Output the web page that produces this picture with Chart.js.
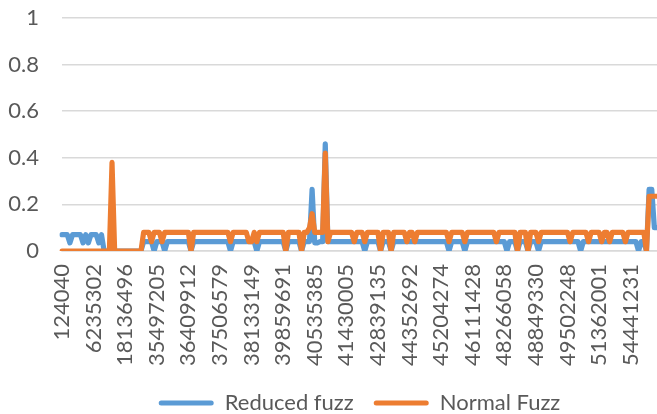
<!DOCTYPE html>
<html>
<head>
<meta charset="utf-8">
<script src="https://cdn.jsdelivr.net/npm/chart.js@4.4.1/dist/chart.umd.min.js"></script>
<style>
html,body{margin:0;padding:0;background:#fff;}
#wrap{width:657px;height:414px;position:relative;}
</style>
</head>
<body>
<div id="wrap"><canvas id="c"></canvas></div>
<script>
// Tick labels shown on the category axis (every 12th category)
const tickLabels = ['124040','6235302','18136496','35497205','36409912','37506579','38133149','39859691','40535385','41430005','42839135','44352692','45204274','46111428','48266058','48849330','49502248','51362001','54441231'];
const labelStep = 12;

const seriesNames = ['Reduced fuzz', 'Normal Fuzz'];
const seriesColors = ['#5B9BD5', '#ED7D31'];

const reducedFuzz = [
  0.07,0.07,0.07,0.035,0.07,0.07,0.07,0.07,0.035,0.07,
  0.035,0.07,0.07,0.07,0.035,0.07,0,0,0,0,
  0,0,0,0,0,0,0,0,0,0,
  0,0.04,0.04,0.04,0.04,0,0.04,0.04,0.04,0,
  0.04,0.04,0.04,0.04,0.04,0.04,0.04,0.04,0.04,0,
  0.04,0.04,0.04,0.04,0.04,0.04,0.04,0.04,0.04,0.04,
  0.04,0.04,0.04,0.04,0,0.04,0.04,0.04,0.04,0.04,
  0.04,0.04,0.04,0.04,0,0.04,0.04,0.04,0.04,0.04,
  0.04,0.04,0.04,0.04,0.04,0,0.04,0.04,0.04,0.04,
  0.04,0,0.04,0.04,0.04,0.265,0.035,0.035,0.04,0.04,
  0.46,0.04,0.04,0.04,0.04,0.04,0.04,0.04,0.04,0.04,
  0.04,0.04,0.04,0.04,0.04,0,0.04,0.04,0.04,0.04,
  0.04,0,0.04,0.04,0.04,0,0.04,0.04,0.04,0.04,
  0.04,0.04,0.04,0.04,0.04,0.04,0.04,0.04,0.04,0.04,
  0.04,0.04,0.04,0.04,0.04,0.04,0.04,0,0.04,0.04,
  0.04,0.04,0.04,0,0.04,0.04,0.04,0.04,0.04,0.04,
  0.04,0.04,0.04,0.04,0.04,0.04,0.04,0.04,0.04,0,
  0.04,0.04,0.04,0,0.04,0.04,0.04,0,0.04,0.04,
  0.04,0,0.04,0.04,0.04,0.04,0.04,0.04,0.04,0.04,
  0.04,0.04,0.04,0.04,0.04,0.04,0.04,0,0.04,0.04,
  0.04,0.04,0.04,0.04,0.04,0.04,0.04,0.04,0.04,0.04,
  0.04,0.04,0.04,0.04,0.04,0.04,0.04,0.04,0.04,0,
  0.04,0.04,0,0.265,0.265,0.1,0.1
];

const normalFuzz = [
  0,0,0,0,0,0,0,0,0,0,
  0,0,0,0,0,0,0,0,0,0.38,
  0,0,0,0,0,0,0,0,0,0,
  0,0.08,0.08,0.08,0.04,0.08,0.08,0.08,0.04,0.08,
  0.08,0.08,0.08,0.08,0.08,0.08,0.08,0.08,0.08,0,
  0.08,0.08,0.08,0.08,0.08,0.08,0.08,0.08,0.08,0.08,
  0.08,0.08,0.08,0.08,0.04,0.08,0.08,0.08,0.08,0.08,
  0.08,0.04,0.04,0.08,0.04,0.08,0.08,0.08,0.08,0.08,
  0.08,0.08,0.08,0.08,0.08,0,0.08,0.08,0.08,0.08,
  0.08,0,0.08,0.08,0.1,0.16,0.08,0.08,0.08,0.08,
  0.42,0.04,0.08,0.08,0.08,0.08,0.08,0.08,0.08,0.08,
  0.08,0.04,0.08,0.08,0.08,0.04,0.08,0.08,0.08,0.08,
  0.08,0,0.08,0.08,0.08,0,0.08,0.08,0.08,0.08,
  0.08,0.04,0.08,0.08,0.04,0.08,0.08,0.08,0.08,0.08,
  0.08,0.08,0.08,0.08,0.08,0.08,0.08,0.04,0.08,0.08,
  0.08,0.08,0.08,0.04,0.08,0.08,0.08,0.08,0.08,0.08,
  0.08,0.08,0.08,0.08,0.08,0.04,0.08,0.08,0.08,0.08,
  0.08,0.08,0.08,0,0.08,0.08,0.08,0,0.08,0.08,
  0.08,0.04,0.08,0.08,0.08,0.08,0.08,0.08,0.08,0.08,
  0.08,0.08,0.08,0.04,0.08,0.08,0.08,0.08,0.08,0.08,
  0.04,0.08,0.08,0.08,0.08,0.04,0.08,0.08,0.04,0.08,
  0.08,0.08,0.08,0.08,0.04,0.08,0.08,0.08,0.08,0.08,
  0.08,0.08,0,0.235,0.235,0.235,0.235
];

const yMin = 0, yMax = 1, yStep = 0.2;

// Category table: only every 12th category carries a visible label
const categories = reducedFuzz.map((_, i) => (i % labelStep === 0 && tickLabels[i / labelStep] !== undefined) ? tickLabels[i / labelStep] : '');

const textColor = '#595959';
const gridColor = '#D9D9D9';
const font = {family: 'Lato', size: 22};

new Chart(document.getElementById('c'), {
  type: 'line',
  data: {
    labels: categories,
    datasets: [
      {label: seriesNames[0], data: reducedFuzz, borderColor: seriesColors[0], backgroundColor: seriesColors[0], order: 1},
      {label: seriesNames[1], data: normalFuzz, borderColor: seriesColors[1], backgroundColor: seriesColors[1], order: 0}
    ]
  },
  options: {
    responsive: true,
    maintainAspectRatio: false,
    animation: false,
    layout: {padding: {top: 18, left: 0, right: 0, bottom: 0}},
    elements: {
      line: {borderWidth: 5.2, tension: 0, borderJoinStyle: 'round', borderCapStyle: 'round'},
      point: {radius: 0, hoverRadius: 0}
    },
    scales: {
      x: {
        offset: false,
        grid: {display: false, drawTicks: false},
        border: {display: true, color: gridColor, width: 1.5},
        ticks: {autoSkip: false, maxRotation: 90, minRotation: 90, padding: 13, color: textColor, font: font},
        afterFit(s) { s.height = 121; s.paddingLeft = 0; s.paddingRight = 0; }
      },
      y: {
        min: yMin, max: yMax,
        ticks: {
          stepSize: yStep, padding: 23, color: textColor, font: font,
          callback: (v) => String(Math.round(v * 10) / 10)
        },
        grid: {color: gridColor, lineWidth: 1.5, drawTicks: false},
        border: {display: false},
        afterFit(s) { s.width = 62; s.paddingTop = 0; s.paddingBottom = 0; }
      }
    },
    plugins: {
      tooltip: {enabled: false},
      legend: {
        position: 'bottom',
        fullSize: false,
        maxHeight: 42,
        labels: {
          boxWidth: 55, boxHeight: 5, padding: 20, color: textColor, font: font,
          generateLabels(chart) {
            return chart.data.datasets.map((ds, i) => ({
              text: ds.label, fillStyle: ds.borderColor, strokeStyle: ds.borderColor,
              lineWidth: 0, hidden: false, datasetIndex: i, fontColor: textColor, borderRadius: 2.5
            }));
          }
        }
      }
    }
  }
});
</script>
</body>
</html>
